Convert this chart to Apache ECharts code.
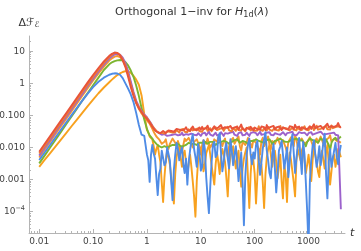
<!DOCTYPE html>
<html><head><meta charset="utf-8">
<script src="https://cdn.jsdelivr.net/npm/echarts@6/dist/echarts.min.js"></script>
<style>html,body{margin:0;padding:0;background:#fff}#c{width:361px;height:251px}</style>
</head><body><div id="c"></div>
<script>
const times = [0.01, 0.01259, 0.01585, 0.01995, 0.02512, 0.03162, 0.03981, 0.05012, 0.0631, 0.07943,
 0.1, 0.1259, 0.1585, 0.1995, 0.2239, 0.2512, 0.2818, 0.3162, 0.3548, 0.3981,
 0.4467, 0.5012, 0.5623, 0.631, 0.7079, 0.7943, 0.8913, 1,
 1.059, 1.122, 1.189, 1.259, 1.334, 1.413, 1.496, 1.585, 1.679, 1.778, 1.884, 1.995, 2.113, 2.239, 2.371, 2.512, 2.661, 2.818, 2.985, 3.162,
 3.35, 3.548, 3.758, 3.981, 4.217, 4.467, 4.732, 5.012, 5.309, 5.623, 5.957, 6.31, 6.683, 7.079, 7.499, 7.943, 8.414, 8.913, 9.441, 10,
 10.59, 11.22, 11.89, 12.59, 13.34, 14.13, 14.96, 15.85, 16.79, 17.78, 18.84, 19.95, 21.13, 22.39, 23.71, 25.12, 26.61, 28.18, 29.85, 31.62,
 33.5, 35.48, 37.58, 39.81, 42.17, 44.67, 47.32, 50.12, 53.09, 56.23, 59.57, 63.1, 66.83, 70.79, 74.99, 79.43, 84.14, 89.13, 94.41, 100,
 105.9, 112.2, 118.9, 125.9, 133.4, 141.3, 149.6, 158.5, 167.9, 177.8, 188.4, 199.5, 211.3, 223.9, 237.1, 251.2, 266.1, 281.8, 298.5, 316.2,
 335, 354.8, 375.8, 398.1, 421.7, 446.7, 473.2, 501.2, 530.9, 562.3, 595.7, 631, 668.3, 707.9, 749.9, 794.3, 841.4, 891.3, 944.1, 1000,
 1059, 1122, 1189, 1259, 1334, 1413, 1496, 1585, 1679, 1778, 1884, 1995, 2113, 2239, 2371, 2512, 2661, 2818, 2985, 3162,
 3350, 3548, 3758, 3981];

const redVals = [0.0074, 0.0129, 0.0224, 0.039, 0.068, 0.117, 0.204, 0.355, 0.62, 1.07, 1.82, 3.0, 4.8, 7.2, 8.3, 9.1, 8.9, 7.4, 5.2, 3.2, 1.6, 0.76, 0.40, 0.24, 0.166, 0.126, 0.095, 0.079,
 0.070, 0.060, 0.052, 0.044, 0.039, 0.034, 0.032, 0.030, 0.029, 0.028, 0.031, 0.033, 0.029, 0.028, 0.032, 0.034, 0.030, 0.033, 0.036, 0.031,
 0.034, 0.038, 0.033, 0.036, 0.041, 0.034, 0.031, 0.037, 0.043, 0.035, 0.039, 0.033, 0.036, 0.045, 0.037, 0.040, 0.034, 0.038, 0.042, 0.036,
 0.044, 0.037, 0.033, 0.040, 0.048, 0.036, 0.041, 0.035, 0.039, 0.046, 0.038, 0.034, 0.042, 0.037, 0.050, 0.039, 0.035, 0.043, 0.038, 0.041,
 0.036, 0.047, 0.039, 0.034, 0.042, 0.038, 0.045, 0.036, 0.040, 0.052, 0.038, 0.043, 0.035, 0.041, 0.046, 0.037, 0.044, 0.039, 0.034, 0.042,
 0.048, 0.037, 0.041, 0.036, 0.045, 0.039, 0.043, 0.035, 0.050, 0.040, 0.037, 0.044, 0.039, 0.047, 0.036, 0.042, 0.038, 0.045, 0.041, 0.035,
 0.043, 0.049, 0.038, 0.042, 0.036, 0.046, 0.040, 0.044, 0.037, 0.051, 0.041, 0.038, 0.045, 0.036, 0.043, 0.048, 0.039, 0.044, 0.037, 0.042,
 0.046, 0.038, 0.041, 0.053, 0.040, 0.036, 0.044, 0.039, 0.047, 0.042, 0.037, 0.045, 0.040, 0.055, 0.043, 0.038, 0.046, 0.041, 0.044, 0.039,
 0.048, 0.058, 0.045, 0.041];

const darkOrangeVals = [0.0065, 0.0112, 0.0195, 0.034, 0.059, 0.102, 0.178, 0.31, 0.54, 0.93, 1.6, 2.65, 4.3, 6.6, 7.8, 8.7, 8.8, 7.6, 5.6, 3.6, 1.9, 0.92, 0.46, 0.26, 0.175, 0.13, 0.10, 0.083,
 0.072, 0.063, 0.054, 0.047, 0.041, 0.036, 0.033, 0.031, 0.028, 0.027, 0.029, 0.031, 0.027, 0.030, 0.032, 0.028, 0.031, 0.034, 0.029, 0.033,
 0.030, 0.035, 0.031, 0.029, 0.036, 0.033, 0.038, 0.031, 0.034, 0.030, 0.037, 0.032, 0.040, 0.034, 0.031, 0.037, 0.033, 0.039, 0.032, 0.035,
 0.031, 0.038, 0.034, 0.042, 0.033, 0.036, 0.040, 0.032, 0.037, 0.034, 0.043, 0.035, 0.031, 0.038, 0.034, 0.041, 0.033, 0.039, 0.035, 0.044,
 0.034, 0.037, 0.032, 0.040, 0.036, 0.033, 0.045, 0.035, 0.038, 0.034, 0.041, 0.036, 0.032, 0.039, 0.035, 0.043, 0.034, 0.037, 0.040, 0.033,
 0.038, 0.034, 0.046, 0.036, 0.039, 0.033, 0.041, 0.037, 0.034, 0.044, 0.036, 0.040, 0.033, 0.038, 0.042, 0.035, 0.039, 0.034, 0.047, 0.037,
 0.035, 0.041, 0.036, 0.039, 0.045, 0.034, 0.038, 0.042, 0.036, 0.040, 0.034, 0.043, 0.037, 0.041, 0.035, 0.039, 0.046, 0.036, 0.040, 0.034,
 0.042, 0.037, 0.044, 0.035, 0.040, 0.048, 0.036, 0.041, 0.038, 0.035, 0.043, 0.039, 0.045, 0.037, 0.041, 0.036, 0.049, 0.040, 0.037, 0.043,
 0.039, 0.046, 0.052, 0.044];

const purpleVals = [0.0056, 0.0098, 0.017, 0.030, 0.052, 0.090, 0.157, 0.27, 0.47, 0.82, 1.40, 2.35, 3.8, 5.9, 7.0, 7.9, 8.3, 7.8, 6.3, 4.3, 2.4, 1.15, 0.55, 0.29, 0.19, 0.138, 0.107, 0.088,
 0.075, 0.066, 0.057, 0.048, 0.041, 0.036, 0.032, 0.030, 0.028, 0.026, 0.025, 0.024, 0.026, 0.025, 0.023, 0.026, 0.024, 0.027, 0.025, 0.023,
 0.026, 0.028, 0.024, 0.027, 0.025, 0.029, 0.024, 0.022, 0.026, 0.028, 0.025, 0.023, 0.027, 0.030, 0.025, 0.027, 0.024, 0.028, 0.026, 0.023,
 0.027, 0.025, 0.029, 0.024, 0.026, 0.031, 0.025, 0.028, 0.023, 0.026, 0.029, 0.024, 0.027, 0.025, 0.030, 0.026, 0.023, 0.028, 0.025, 0.027,
 0.024, 0.029, 0.026, 0.031, 0.025, 0.027, 0.023, 0.028, 0.026, 0.030, 0.024, 0.027, 0.025, 0.029, 0.026, 0.023, 0.028, 0.025, 0.030, 0.026,
 0.028, 0.024, 0.027, 0.031, 0.025, 0.028, 0.026, 0.024, 0.029, 0.026, 0.030, 0.025, 0.027, 0.024, 0.028, 0.032, 0.026, 0.029, 0.025, 0.027,
 0.030, 0.026, 0.024, 0.028, 0.025, 0.029, 0.027, 0.031, 0.025, 0.028, 0.024, 0.027, 0.030, 0.026, 0.028, 0.025, 0.029, 0.027, 0.024, 0.028,
 0.026, 0.030, 0.025, 0.028, 0.027, 0.024, 0.029, 0.026, 0.031, 0.027, 0.025, 0.028, 0.026, 0.030, 0.027, 0.024, 0.028, 0.026, 0.029, 0.025,
 0.027, 0.024, 0.026, 0.00012];

const orange2Vals = [0.0049, 0.0085, 0.0148, 0.026, 0.045, 0.078, 0.136, 0.235, 0.41, 0.71, 1.22, 2.05, 3.3, 5.1, 6.0, 6.8, 7.1, 6.6, 5.3, 3.6, 2.0, 0.98, 0.47, 0.25, 0.16, 0.115, 0.088, 0.07,
 0.062, 0.055, 0.046, 0.038, 0.031, 0.026, 0.022, 0.020, 0.018, 0.016, 0.013, 0.012, 0.015, 0.018, 0.011, 0.009, 0.013, 0.015, 0.019, 0.021,
 0.014, 0.011, 0.016, 0.017, 0.009, 0.007, 0.012, 0.019, 0.016, 0.014, 0.020, 0.022, 0.013, 0.010, 0.015, 0.016, 0.018, 0.020, 0.011, 0.006,
 0.012, 0.017, 0.015, 0.013, 0.019, 0.021, 0.010, 0.009, 0.014, 0.018, 0.020, 0.015, 0.021, 0.023, 0.014, 0.011, 0.016, 0.019, 0.008, 0.005,
 0.011, 0.016, 0.018, 0.020, 0.013, 0.012, 0.019, 0.022, 0.011, 0.008, 0.015, 0.017, 0.012, 0.014, 0.020, 0.021, 0.013, 0.010, 0.017, 0.019,
 0.014, 0.015, 0.009, 0.006, 0.016, 0.020, 0.011, 0.013, 0.018, 0.022, 0.012, 0.009, 0.016, 0.018, 0.013, 0.016, 0.020, 0.021, 0.012, 0.011,
 0.017, 0.019, 0.010, 0.007, 0.015, 0.017, 0.021, 0.014, 0.011, 0.023, 0.018, 0.010, 0.016, 0.018, 0.019, 0.020, 0.013, 0.012, 0.015, 0.016,
 0.021, 0.022, 0.012, 0.008, 0.016, 0.019, 0.014, 0.015, 0.022, 0.021, 0.013, 0.011, 0.017, 0.017, 0.020, 0.024, 0.015, 0.013, 0.019, 0.020,
 0.016, 0.018, 0.015, 0.014];

const greenVals = [0.0032, 0.0056, 0.0098, 0.0172, 0.030, 0.053, 0.093, 0.163, 0.29, 0.50, 0.87, 1.5, 2.6, 3.9, 4.5, 4.9, 5.2, 5.3, 5.2, 4.6, 3.6, 2.5, 1.6, 0.85, 0.40, 0.17, 0.075, 0.038,
 0.029, 0.024, 0.021, 0.019, 0.016, 0.015, 0.013, 0.012, 0.011, 0.011, 0.010, 0.010, 0.011, 0.012, 0.010, 0.010, 0.011, 0.011, 0.012, 0.013,
 0.012, 0.011, 0.013, 0.014, 0.011, 0.012, 0.011, 0.010, 0.012, 0.013, 0.014, 0.015, 0.013, 0.012, 0.013, 0.014, 0.012, 0.011, 0.014, 0.016,
 0.014, 0.013, 0.015, 0.015, 0.013, 0.012, 0.015, 0.017, 0.015, 0.014, 0.012, 0.011, 0.014, 0.016, 0.015, 0.013, 0.016, 0.018, 0.015, 0.014,
 0.013, 0.012, 0.015, 0.016, 0.017, 0.015, 0.018, 0.019, 0.014, 0.013, 0.016, 0.017, 0.015, 0.014, 0.013, 0.012, 0.016, 0.018, 0.016, 0.015,
 0.018, 0.020, 0.016, 0.014, 0.015, 0.017, 0.014, 0.013, 0.017, 0.019, 0.018, 0.016, 0.013, 0.012, 0.016, 0.018, 0.017, 0.015, 0.019, 0.021,
 0.016, 0.014, 0.015, 0.017, 0.015, 0.013, 0.017, 0.019, 0.018, 0.016, 0.019, 0.020, 0.016, 0.014, 0.017, 0.018, 0.013, 0.011, 0.015, 0.017,
 0.019, 0.020, 0.017, 0.015, 0.016, 0.018, 0.014, 0.013, 0.019, 0.021, 0.017, 0.016, 0.018, 0.019, 0.012, 0.008, 0.014, 0.017, 0.019, 0.020,
 0.017, 0.015, 0.020, 0.022];

const blueVals = [0.0041, 0.0070, 0.0120, 0.0205, 0.035, 0.060, 0.102, 0.172, 0.29, 0.48, 0.76, 1.12, 1.50, 1.85, 1.98, 2.05, 2.02, 1.85, 1.45, 1.0, 0.68, 0.45, 0.26, 0.12, 0.05, 0.025, 0.023, 0.006,
 0.004, 0.00085, 0.006, 0.012, 0.0065, 0.0045, 0.0012, 0.00033, 0.0015, 0.0022, 0.008, 0.009, 0.0028, 0.0035, 0.010, 0.011, 0.004, 0.0009, 0.00023, 0.002,
 0.006, 0.014, 0.009, 0.004, 0.0075, 0.010, 0.003, 0.0016, 0.0045, 0.0007, 0.0035, 0.008, 0.016, 0.026, 0.009, 0.005, 0.0025, 0.013, 0.007, 0.0019,
 0.0025, 0.017, 0.009, 0.0012, 0.0003, 0.00009, 0.0006, 0.0035, 0.012, 0.015, 0.005, 0.006, 0.022, 0.028, 0.007, 0.0018, 0.0035, 0.009, 0.014, 0.0045,
 0.0022, 0.018, 0.008, 0.0028, 0.006, 0.011, 0.0035, 0.0009, 0.0025, 0.007, 0.0008, 0.000038, 0.0012, 0.006, 0.012, 0.019, 0.006, 0.003, 0.007, 0.0045,
 0.012, 0.016, 0.004, 0.0014, 0.0035, 0.009, 0.018, 0.030, 0.008, 0.004, 0.0016, 0.0011, 0.006, 0.013, 0.0022, 0.0004, 0.0015, 0.008, 0.011, 0.016,
 0.006, 0.0022, 0.0045, 0.010, 0.0012, 0.0035, 0.012, 0.026, 0.007, 0.0016, 0.0045, 0.012, 0.020, 0.005, 0.0015, 0.015, 0.006, 0.0008, 0.0001, 0.000008,
 0.0009, 0.004, 0.011, 0.017, 0.006, 0.0025, 0.0045, 0.011, 0.0028, 0.006, 0.015, 0.027, 0.0015, 0.00026, 0.0035, 0.009, 0.0025, 0.0045, 0.008, 0.014,
 0.005, 0.003, 0.007, 0.012];

const orangeLowVals = [0.0025, 0.0041, 0.0066, 0.0107, 0.0174, 0.028, 0.046, 0.074, 0.12, 0.195, 0.31, 0.49, 0.74, 1.08, 1.3, 1.55, 1.8, 2.05, 2.25, 2.4, 2.35, 2.1, 1.7, 1.3, 0.9, 0.42, 0.11, 0.035,
 0.030, 0.022, 0.020, 0.018, 0.011, 0.006, 0.009, 0.012, 0.006, 0.0035, 0.0008, 0.0002, 0.0012, 0.004, 0.008, 0.009, 0.003, 0.0012, 0.0004, 0.00018,
 0.0015, 0.005, 0.009, 0.011, 0.005, 0.0025, 0.006, 0.008, 0.0035, 0.0015, 0.003, 0.006, 0.0025, 0.0009, 0.0003, 0.00007, 0.0009, 0.004, 0.007, 0.010,
 0.005, 0.0018, 0.003, 0.0065, 0.009, 0.012, 0.006, 0.0028, 0.0014, 0.0007, 0.003, 0.007, 0.0035, 0.0015, 0.005, 0.009, 0.006, 0.0035, 0.0011, 0.0003,
 0.0025, 0.005, 0.008, 0.011, 0.0045, 0.0022, 0.005, 0.008, 0.0018, 0.0006, 0.0022, 0.0045, 0.007, 0.010, 0.0012, 0.00013, 0.0015, 0.006, 0.004, 0.0015,
 0.00018, 0.0012, 0.007, 0.004, 0.003, 0.0008, 0.00013, 0.0015, 0.005, 0.009, 0.012, 0.006, 0.0025, 0.005, 0.008, 0.0035, 0.0011, 0.0025, 0.006, 0.0009,
 0.00026, 0.0028, 0.0015, 0.0002, 0.0025, 0.007, 0.004, 0.0018, 0.0008, 0.0003, 0.004, 0.009, 0.006, 0.004, 0.008, 0.011, 0.004, 0.0016, 0.003, 0.006,
 0.0025, 0.0009, 0.004, 0.010, 0.006, 0.0035, 0.0018, 0.0012, 0.005, 0.008, 0.004, 0.0022, 0.007, 0.012, 0.003, 0.0007, 0.0018, 0.005, 0.006, 0.0025,
 0.0045, 0.009, 0.007, 0.005];

const xTickValues = [0.01, 0.1, 1, 10, 100, 1000];
const xTickLabels = ['0.01', '0.10', '1', '10', '100', '1000'];
const yTickValues = [0.0001, 0.001, 0.01, 0.1, 1, 10];
const yTickLabels = ['10{sup|\u22124}', '0.001', '0.010', '0.100', '1', '10'];
const minorMultipliers = [2, 3, 4, 5, 6, 7, 8, 9];

const X_MIN = 0.00646, X_MAX = 4750, Y_MIN = 2.17e-5, Y_MAX = 29.8;

function minorTicks(kFrom, kTo, lo, hi) {
  const out = [];
  for (let k = kFrom; k <= kTo; k++) {
    for (const m of minorMultipliers) {
      const v = m * Math.pow(10, k);
      if (v > lo && v < hi) out.push(v);
    }
  }
  return out;
}
const xMinor = minorTicks(-3, 3, X_MIN, X_MAX);
const yMinor = minorTicks(-5, 1, Y_MIN, Y_MAX);

function labelFor(values, labels) {
  return function (v) {
    for (let i = 0; i < values.length; i++) {
      if (Math.abs(Math.log10(v / values[i])) < 1e-6) return labels[i];
    }
    return '';
  };
}

const FONT = 'DejaVu Sans';
const AXIS_COLOR = '#b4b4b4';
const LABEL_COLOR = '#444';

const seriesDefs = [
  { name: 'orangeLow', vals: orangeLowVals, color: '#F8A11E' },
  { name: 'orange2', vals: orange2Vals, color: '#F49A30' },
  { name: 'green', vals: greenVals, color: '#7CB530' },
  { name: 'purple', vals: purpleVals, color: '#9C62CC' },
  { name: 'darkOrange', vals: darkOrangeVals, color: '#EF7E33' },
  { name: 'red', vals: redVals, color: '#E8533A' },
  { name: 'blue', vals: blueVals, color: '#4F8CE6' }
];

const chart = echarts.init(document.getElementById('c'), null, { renderer: 'canvas' });
chart.setOption({
  animation: false,
  backgroundColor: '#fff',
  title: {
    text: '{n|Orthogonal 1\u2212inv for }{i|H}{s|1d}{n|(}{i|\u03bb}{n|)}',
    left: 110, top: 1,
    textStyle: {
      fontFamily: FONT, fontSize: 11, fontWeight: 'normal', color: '#333',
      rich: {
        n: { fontFamily: FONT, fontSize: 11, color: '#333' },
        i: { fontFamily: FONT, fontSize: 11, fontStyle: 'italic', color: '#333' },
        s: { fontFamily: FONT, fontSize: 8, color: '#333', padding: [5, 0, 0, 0] }
      }
    }
  },
  grid: { left: 29, right: 16, top: 36, bottom: 18, containLabel: false, outerBoundsMode: 'none' },
  xAxis: [
    {
      type: 'log', logBase: 10, min: X_MIN, max: X_MAX, position: 'bottom',
      name: 't', nameLocation: 'end', nameGap: 5,
      nameTextStyle: { fontFamily: FONT, fontSize: 11, fontStyle: 'italic', color: '#333' },
      axisLine: { lineStyle: { color: AXIS_COLOR, width: 1 } },
      axisTick: { inside: true, length: 4, customValues: xTickValues, lineStyle: { color: AXIS_COLOR } },
      axisLabel: { customValues: xTickValues, formatter: labelFor(xTickValues, xTickLabels),
        fontFamily: FONT, fontSize: 9, color: LABEL_COLOR, margin: 4 },
      splitLine: { show: false }, minorTick: { show: false }
    },
    {
      type: 'log', logBase: 10, min: X_MIN, max: X_MAX, position: 'bottom',
      axisLine: { show: false },
      axisTick: { inside: true, length: 2, customValues: xMinor, lineStyle: { color: AXIS_COLOR } },
      axisLabel: { show: false }, splitLine: { show: false }
    }
  ],
  yAxis: [
    {
      type: 'log', logBase: 10, min: Y_MIN, max: Y_MAX, position: 'left',
      name: '\u0394\u2131{sub|\u2130}', nameLocation: 'end', nameGap: 7,
      nameTextStyle: { fontFamily: FONT, fontSize: 11, color: '#333',
        rich: { sub: { fontFamily: FONT, fontSize: 8, color: '#333', padding: [4, 0, 0, 0] } } },
      axisLine: { lineStyle: { color: AXIS_COLOR, width: 1 } },
      axisTick: { inside: true, length: 4, customValues: yTickValues, lineStyle: { color: AXIS_COLOR } },
      axisLabel: { customValues: yTickValues, formatter: labelFor(yTickValues, yTickLabels),
        fontFamily: FONT, fontSize: 9, color: LABEL_COLOR, margin: 4,
        rich: { sup: { fontFamily: FONT, fontSize: 6.5, color: LABEL_COLOR, padding: [0, 0, 6, 0] } } },
      splitLine: { show: false }, minorTick: { show: false }
    },
    {
      type: 'log', logBase: 10, min: Y_MIN, max: Y_MAX, position: 'left',
      axisLine: { show: false },
      axisTick: { inside: true, length: 2, customValues: yMinor, lineStyle: { color: AXIS_COLOR } },
      axisLabel: { show: false }, splitLine: { show: false }
    }
  ],
  series: seriesDefs.map(d => ({
    name: d.name, type: 'line', xAxisIndex: 0, yAxisIndex: 0,
    data: times.map((t, i) => [t, d.vals[i]]),
    showSymbol: false, symbol: 'none', clip: true,
    lineStyle: { color: d.color, width: 1.9, join: 'round' },
    itemStyle: { color: d.color },
    emphasis: { disabled: true }
  }))
});
</script>
</body></html>
